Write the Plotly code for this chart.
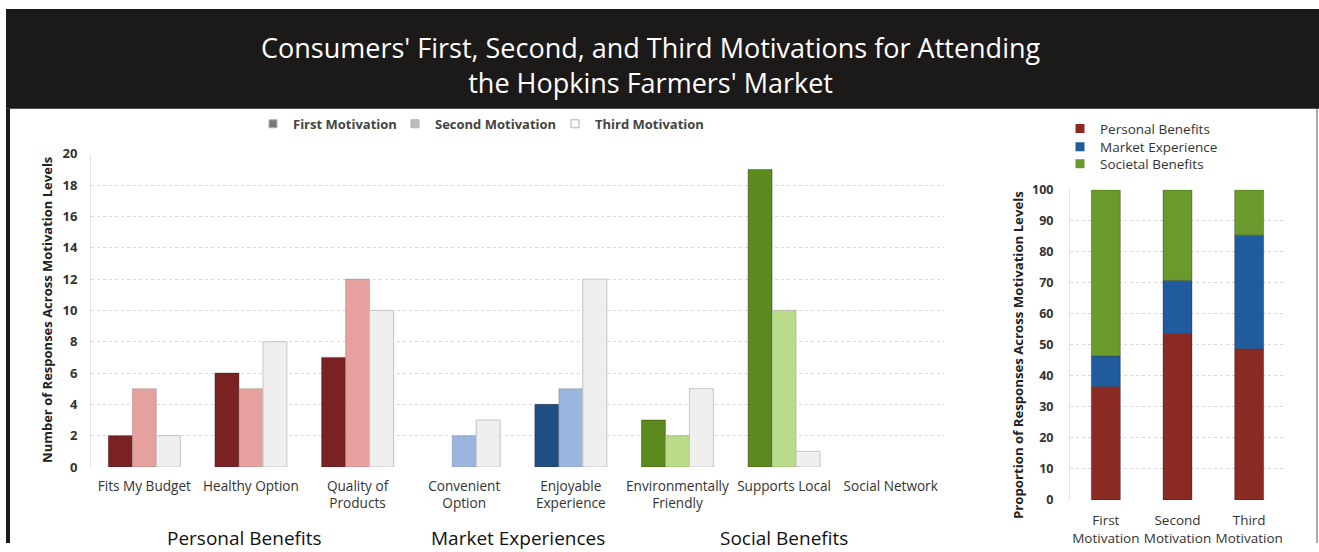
import plotly.graph_objects as go

# ---------------- data ----------------
categories = ["Fits My Budget", "Healthy Option", "Quality of<br>Products",
              "Convenient<br>Option", "Enjoyable<br>Experience",
              "Environmentally<br>Friendly", "Supports Local", "Social Network"]
category_group = ["Personal Benefits", "Personal Benefits", "Personal Benefits",
                  "Market Experiences", "Market Experiences",
                  "Social Benefits", "Social Benefits", "Social Benefits"]
first_motivation = [2, 6, 7, 0, 4, 3, 19, 0]
second_motivation = [5, 5, 12, 2, 5, 2, 10, 0]
third_motivation = [2, 8, 10, 3, 12, 5, 1, 0]
group_labels = ["Personal Benefits", "Market Experiences", "Social Benefits"]
series_names = ["First Motivation", "Second Motivation", "Third Motivation"]

levels = ["First<br>Motivation", "Second<br>Motivation", "Third<br>Motivation"]
personal_pct = [36.6, 53.7, 48.8]
market_pct = [9.8, 17.1, 36.6]
societal_pct = [53.6, 29.2, 14.6]
stack_names = ["Personal Benefits", "Market Experience", "Societal Benefits"]

left_ticks = list(range(0, 21, 2))
right_ticks = list(range(0, 101, 10))
title_text = ("Consumers' First, Second, and Third Motivations for Attending"
              "<br>the Hopkins Farmers' Market")

# ---------------- styles ----------------
W, H = 1319, 552
FONT = "Open Sans"
group_colors = {
    "Personal Benefits": ["#7a2222", "#e6a09e", "#efefef"],
    "Market Experiences": ["#1e4f84", "#9ab5e0", "#efefef"],
    "Social Benefits": ["#5d8a1e", "#b9db8a", "#efefef"],
}
line_colors = ["rgba(40,20,20,0.35)", "rgba(120,120,120,0.35)", "#c4c4c4"]
stack_colors = ["#8a2a23", "#1f5b9d", "#6a9a2c"]
legend_gray = ["#777777", "#bdbdbd", "#ffffff"]
left_legend_ids = ["legend", "legend2", "legend3"]
left_legend_text_x = [292, 434, 594]
right_legend_ids = ["legend4", "legend5", "legend6"]
right_legend_rows = [128, 146, 163]
group_xshift = {"Personal Benefits": -6, "Market Experiences": 0, "Social Benefits": 0}


def px(x):
    return x / W


def py(y):
    # vertical placement (pixels from top) -> paper fraction, calibrated to the renderer
    return 1 - ((y - 8.2) / 0.967) / H


fig = go.Figure()

# left grouped bars
series = [first_motivation, second_motivation, third_motivation]
bw = 0.225
for i, vals in enumerate(series):
    fig.add_trace(go.Bar(
        x=categories, y=vals, name=series_names[i],
        marker=dict(color=[group_colors[g][i] for g in category_group],
                    line=dict(color=[line_colors[i] if v else "rgba(0,0,0,0)" for v in vals],
                              width=1)),
        width=bw, offset=-1.5 * bw + i * bw,
        showlegend=False, xaxis="x", yaxis="y",
    ))
# left legend entries (grayscale, as in the original)
for i, name in enumerate(series_names):
    fig.add_trace(go.Scatter(
        x=[None], y=[None], mode="markers", name=name,
        marker=dict(symbol="square", size=8, color=legend_gray[i],
                    line=dict(color="#b0b0b0", width=1)),
        legend=left_legend_ids[i], xaxis="x", yaxis="y",
    ))

# right stacked bars
stack_vals = [personal_pct, market_pct, societal_pct]
base = [0.0] * len(levels)
for i, vals in enumerate(stack_vals):
    fig.add_trace(go.Bar(
        x=levels, y=vals, base=list(base), name=stack_names[i],
        marker=dict(color=stack_colors[i], line=dict(color="rgba(0,0,0,0.25)", width=1)),
        width=0.405, showlegend=False, xaxis="x2", yaxis="y2",
    ))
    base = [b + v for b, v in zip(base, vals)]
for i, name in enumerate(stack_names):
    fig.add_trace(go.Scatter(
        x=[None], y=[None], mode="markers", name=name,
        marker=dict(symbol="square", size=9, color=stack_colors[i]),
        legend=right_legend_ids[i], xaxis="x2", yaxis="y2",
    ))

grid = dict(showgrid=True, gridcolor="#d9d9d9", griddash="dot", gridwidth=1)

layout = dict(
    width=W, height=H,
    margin=dict(l=0, r=0, t=0, b=0),
    paper_bgcolor="white", plot_bgcolor="white",
    barmode="overlay",
    font=dict(family=FONT, color="#333333"),
    xaxis=dict(domain=[px(91), px(944)], type="category", range=[-0.5, 7.5],
               showgrid=False, showline=False, ticks="", tickangle=0,
               tickfont=dict(family=FONT, size=13.6, color="#333333"),
               ticklabelstandoff=9),
    yaxis=dict(domain=[py(466), py(153)], range=[0, 20], tickvals=left_ticks,
               tickfont=dict(family=FONT, size=13, color="#333333", weight="bold"),
               showline=True, linecolor="#e2e2e2", zeroline=False,
               ticklabelstandoff=10, **grid),
    xaxis2=dict(domain=[px(1070), px(1285)], type="category", range=[-0.5, 2.5],
                showgrid=False, showline=False, ticks="", tickangle=0,
                tickfont=dict(family=FONT, size=13.5, color="#333333"),
                ticklabelstandoff=11, anchor="y2"),
    yaxis2=dict(domain=[py(499), py(189)], range=[0, 100], tickvals=right_ticks,
                tickfont=dict(family=FONT, size=12.5, color="#333333", weight="bold"),
                showline=True, linecolor="#e2e2e2", zeroline=False,
                ticklabelstandoff=13, anchor="x2", **grid),
)
for i, lid in enumerate(left_legend_ids):
    layout[lid] = dict(orientation="h", x=px(left_legend_text_x[i] - 39), y=py(123),
                       xanchor="left", yanchor="middle",
                       font=dict(family=FONT, size=13, color="#444444", weight="bold"),
                       bgcolor="rgba(0,0,0,0)", itemwidth=30)
for i, lid in enumerate(right_legend_ids):
    layout[lid] = dict(orientation="v", x=px(1060), y=py(right_legend_rows[i]),
                       xanchor="left", yanchor="middle",
                       font=dict(family=FONT, size=13.5, color="#333333"),
                       bgcolor="rgba(0,0,0,0)", itemwidth=30)
fig.update_layout(**layout)

shapes = [
    # black title banner
    dict(type="rect", xref="paper", yref="paper", x0=px(6), x1=1.0, y0=py(108), y1=1.0,
         fillcolor="#1c1a18", line=dict(width=0), layer="below"),
    # left frame line
    dict(type="line", xref="paper", yref="paper", x0=px(8), x1=px(8), y0=0, y1=py(108),
         line=dict(color="#1a1a1a", width=4)),
    # right frame line
    dict(type="line", xref="paper", yref="paper", x0=px(1317), x1=px(1317), y0=0, y1=py(108),
         line=dict(color="#555555", width=1)),
]
fig.update_layout(shapes=shapes)

annotations = [
    dict(text=title_text,
         x=px(651), y=py(64.5), xref="paper", yref="paper", showarrow=False,
         font=dict(family=FONT, size=27, color="white"), xanchor="center", yanchor="middle"),
    dict(text="Number of Responses Across Motivation Levels", textangle=-90,
         x=px(47), y=py(309), xref="paper", yref="paper", showarrow=False,
         font=dict(family=FONT, size=13, color="#222222", weight="bold"),
         xanchor="center", yanchor="middle"),
    dict(text="Proportion of Responses Across Motivation Levels", textangle=-90,
         x=px(1018), y=py(354), xref="paper", yref="paper", showarrow=False,
         font=dict(family=FONT, size=13.2, color="#222222", weight="bold"),
         xanchor="center", yanchor="middle"),
]
for g in group_labels:
    idx = [i for i, c in enumerate(category_group) if c == g]
    annotations.append(dict(
        text=g, x=sum(idx) / len(idx), y=py(537), xref="x", yref="paper",
        xshift=group_xshift[g],
        showarrow=False, font=dict(family=FONT, size=19, color="#111111"),
        xanchor="center", yanchor="middle"))
fig.update_layout(annotations=annotations)

fig.write_html("out.html")
